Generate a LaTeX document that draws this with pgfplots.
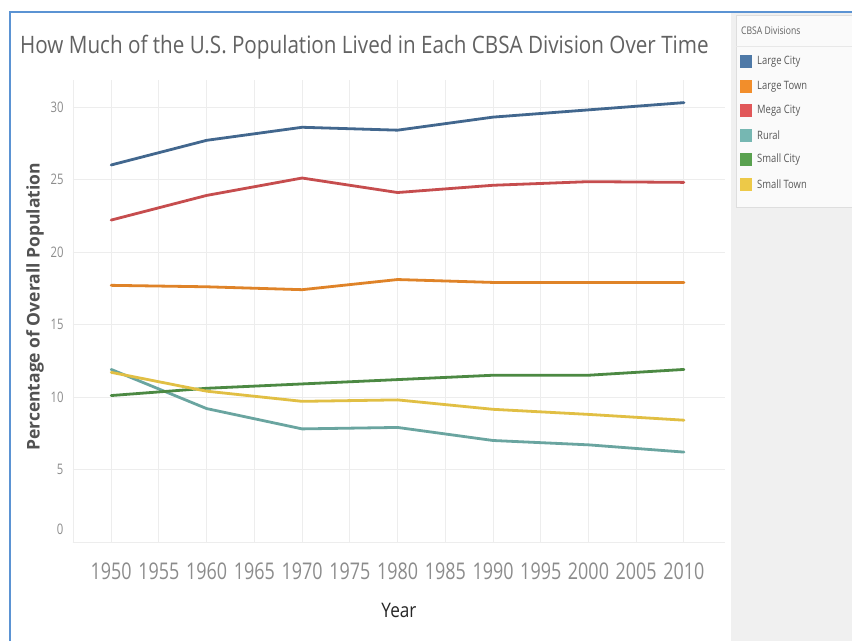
\documentclass[border=0pt]{standalone}
\usepackage{pgfplots}
\usepackage{pgfplotstable}
\pgfplotsset{compat=1.18}
\usepackage{fontspec}
\setmainfont{Open Sans}
\newfontfamily\narrowsans{Open Sans}[FakeStretch=0.78]
\newfontfamily\titlesans{Open Sans}[FakeStretch=0.86]
\newfontfamily\legendsans{Open Sans}[FakeStretch=0.82]

% Tableau-style palette
\definecolor{cLargeCity}{HTML}{4E79A7}
\definecolor{cLargeTown}{HTML}{F28E2B}
\definecolor{cMegaCity}{HTML}{E15759}
\definecolor{cRural}{HTML}{76B7B2}
\definecolor{cSmallCity}{HTML}{59A14F}
\definecolor{cSmallTown}{HTML}{EDC948}
\definecolor{gridgray}{HTML}{EDEDED}
\definecolor{ticktext}{HTML}{8C8C8C}
\definecolor{titletext}{HTML}{626262}
\definecolor{panelgray}{HTML}{F0F0F0}
\definecolor{frameblue}{HTML}{5B93D3}

% Share of the U.S. population (%) by CBSA division
\pgfplotstableread{
year LargeCity LargeTown MegaCity Rural SmallCity SmallTown
1950 26.0  17.7 22.2  11.9 10.1 11.7
1960 27.7  17.6 23.9  9.2  10.6 10.4
1970 28.6  17.4 25.1  7.8  10.9 9.7
1980 28.4  18.1 24.1  7.9  11.2 9.8
1990 29.3  17.9 24.6  7.0  11.5 9.15
2000 29.8  17.9 24.85 6.7  11.5 8.8
2010 30.3  17.9 24.8  6.2  11.9 8.4
}\popdata

\begin{document}
\begin{tikzpicture}[x=1pt,y=1pt]
\useasboundingbox (0,0) rectangle (852,641);
\fill[white] (0,0) rectangle (852,641);
% right-hand panel holding the legend
\fill[panelgray] (731,0) rectangle (852,628);
\filldraw[fill=white!98!black, draw=black!13] (736,434) rectangle (853,626);
\draw[black!9] (736,595) -- (852,595);
\node[anchor=west, text=titletext, inner sep=0pt] at (741,610)
  {\legendsans\fontsize{10.5}{10.5}\selectfont CBSA Divisions};
\foreach \y/\c/\t in {579/cLargeCity/Large City, 554.5/cLargeTown/Large Town,
    530/cMegaCity/Mega City, 505.5/cRural/Rural, 481/cSmallCity/Small City,
    456.5/cSmallTown/Small Town}{
  \fill[\c] (740,\y-6.5) rectangle (752,\y+6.5);
  \node[anchor=west, text=black!65, inner sep=0pt] at (757,\y)
    {\legendsans\fontsize{11.5}{11.5}\selectfont \t};
}
% frame
\draw[frameblue, line width=2pt] (10,0) -- (10,629) -- (853,629);
% title
\node[anchor=west, text=titletext, inner sep=0pt] at (20,594)
  {\titlesans\fontsize{24}{24}\selectfont How Much of the U.S. Population Lived in Each CBSA Division Over Time};

\begin{axis}[
  at={(73pt,99pt)}, anchor=south west,
  scale only axis, width=652pt, height=462pt,
  xmin=1946, xmax=2014.3, ymin=0, ymax=31.86,
  xtick={1950,1955,...,2010},
  xticklabels={1950,1955,1960,1965,1970,1975,1980,1985,1990,1995,2000,2005,2010},
  ytick={0,5,...,30},
  yticklabels={\raisebox{8pt}[0pt][0pt]{0},5,10,15,20,25,30},
  major tick length=0pt,
  grid=major,
  major grid style={draw=gridgray, line width=0.9pt},
  axis x line*=bottom, axis y line*=left,
  axis line style={draw=gridgray, line width=0.9pt, -},
  xticklabel style={font=\narrowsans\fontsize{23}{23}\selectfont, text=ticktext,
    anchor=base, yshift=-37pt},
  yticklabel style={font=\narrowsans\fontsize{14.5}{14.5}\selectfont, text=ticktext,
    anchor=east, xshift=-6pt},
  xlabel={Year},
  xlabel style={at={(axis description cs:0.5,-0.149)}, anchor=center,
    font=\titlesans\fontsize{20}{20}\selectfont, text=black!85},
  ylabel={Percentage of Overall Population},
  ylabel style={at={(axis description cs:-0.0583,0.509)}, anchor=center,
    font=\bfseries\fontsize{17.5}{17.5}\selectfont, text=black!68},
  every axis plot/.append style={line width=2.8pt, line join=round, line cap=round},
  clip=false,
]
\addplot[no marks, color=cLargeCity!85!black] table[x=year, y=LargeCity] {\popdata};
\addplot[no marks, color=cLargeTown!92!black] table[x=year, y=LargeTown] {\popdata};
\addplot[no marks, color=cMegaCity!88!black] table[x=year, y=MegaCity] {\popdata};
\addplot[no marks, color=cRural!90!black] table[x=year, y=Rural] {\popdata};
\addplot[no marks, color=cSmallCity!85!black] table[x=year, y=SmallCity] {\popdata};
\addplot[no marks, color=cSmallTown!95!black] table[x=year, y=SmallTown] {\popdata};
\end{axis}
\end{tikzpicture}
\end{document}
